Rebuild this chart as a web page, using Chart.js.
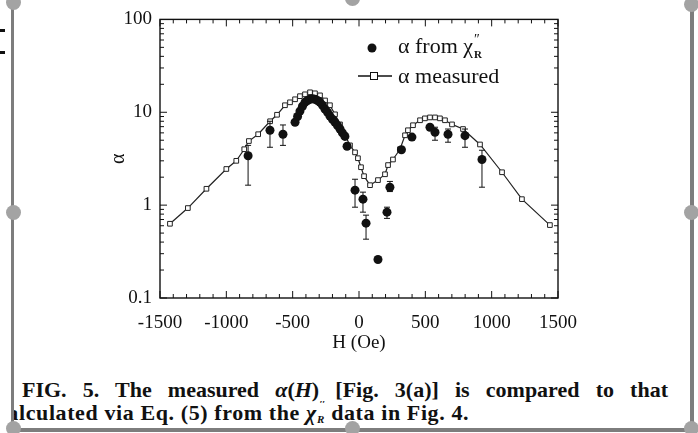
<!DOCTYPE html>
<html>
<head>
<meta charset="utf-8">
<script src="https://cdn.jsdelivr.net/npm/chart.js@4.4.0/dist/chart.umd.min.js"></script>
<style>
  body { margin: 0; background: #fff; width: 698px; height: 433px; overflow: hidden; position: relative; font-family: "Liberation Serif", "Times New Roman", serif; color: #111; }
  #wrap { position: absolute; left: 0; top: 0; width: 698px; height: 360px; }
  .cap { position: absolute; font-size: 22px; line-height: 23px; font-weight: bold; letter-spacing: 0.6px; white-space: nowrap; }
  #cap1 { left: 22px; top: 378px; width: 646px; white-space: normal; text-align: justify; text-align-last: justify; letter-spacing: 0; }
  #clip2 { position: absolute; left: 14px; top: 401px; width: 600px; height: 24px; overflow: hidden; }
  #cap2 { left: -17px; top: 0; }
  .chi { display: inline-block; position: relative; width: 19px; }
  .chi .pr { position: absolute; left: 13px; top: -9px; font-size: 13px; font-style: italic; }
  .chi .r { position: absolute; left: 11px; top: 7px; font-size: 11px; font-style: italic; }
  .bar { position: absolute; background: #7d7d7d; }
  .dot { position: absolute; width: 15px; height: 15px; border-radius: 50%; background: #a3a3a3; }
  .mark { position: absolute; background: #111; }
</style>
</head>
<body>
<div id="wrap"><canvas id="chart" width="698" height="360"></canvas></div>

<div class="cap" id="cap1">FIG. 5. The measured <i>α</i>(<i>H</i>) [Fig. 3(a)] is compared to that</div>
<div id="clip2"><div class="cap" id="cap2">calculated via Eq. (5) from the <span class="chi"><i>χ</i><span class="pr">″</span><span class="r">R</span></span> data in Fig. 4.</div></div>

<div class="bar" style="left:11px; top:8px; width:3px; height:425px;"></div>
<div class="bar" style="left:690px; top:8px; width:4px; height:425px;"></div>
<div class="bar" style="left:11px; top:428px; width:683px; height:4px;"></div>
<div class="dot" style="left:6px; top:-5px;"></div>
<div class="dot" style="left:345px; top:-9px;"></div>
<div class="dot" style="left:684px; top:-3px;"></div>
<div class="dot" style="left:6px; top:205px;"></div>
<div class="dot" style="left:684px; top:205px;"></div>
<div class="dot" style="left:6px; top:421px;"></div>
<div class="dot" style="left:345px; top:421px;"></div>
<div class="dot" style="left:684px; top:421px;"></div>
<div class="mark" style="left:0; top:29px; width:5px; height:3px;"></div>
<div class="mark" style="left:0; top:51px; width:5px; height:3px;"></div>

<script>
// alpha measured (open squares, line)
const hMeasured = [-1425, -1290, -1150, -1000, -925, -865, -830, -760, -670, -618,
  -558, -520, -482, -445, -407, -369, -332, -294, -256, -219,
  -181, -143, -106, -68, -30, -8, 15, 38, 83, 143,
  196, 219, 256, 309, 347, 369, 407, 460, 497, 535,
  573, 610, 648, 701, 784, 912, 1078, 1228, 1439];
const alphaMeasured = [0.63, 0.93, 1.5, 2.45, 3.0, 4.0, 4.9, 5.8, 8.0, 9.4,
  11.9, 12.8, 13.8, 14.9, 15.6, 16.4, 16.0, 15.2, 13.4, 11.9,
  9.5, 7.4, 5.7, 4.4, 3.7, 3.2, 2.56, 2.05, 1.64, 1.86,
  2.15, 2.7, 3.1, 4.0, 5.65, 6.4, 7.25, 8.2, 8.6, 8.8,
  8.8, 8.6, 8.2, 7.4, 6.6, 4.5, 2.26, 1.16, 0.61];

// alpha from chi''_R (filled dots, some with error bars)
const hFromChi = [-836, -671, -573, -482, -463, -445, -426, -407, -388, -369,
  -350, -332, -313, -294, -275, -256, -237, -219, -200, -181,
  -162, -143, -125, -106, -90, -30, 30, 53, 143, 211,
  233, 320, 399, 535, 573, 671, 799, 927];
const alphaFromChi = [3.4, 6.4, 5.8, 7.8, 9.0, 10.3, 11.6, 12.8, 13.4, 13.8,
  14.0, 13.8, 13.4, 12.8, 11.9, 10.8, 10.0, 9.1, 8.4, 7.8,
  7.2, 6.6, 6.0, 5.5, 4.3, 1.45, 1.16, 0.64, 0.26, 0.84,
  1.56, 3.95, 5.4, 6.9, 6.1, 5.8, 5.6, 3.1];
const errLow = [1.64, 4.2, 4.4, null, null, null, null, null, null, null,
  null, null, null, null, null, null, null, null, null, null,
  null, null, null, null, null, 0.95, 0.84, 0.43, null, 0.72,
  1.4, null, null, null, 5.0, 4.76, 4.2, 1.56];
const errHigh = [4.4, 8.0, 7.3, null, null, null, null, null, null, null,
  null, null, null, null, null, null, null, null, null, null,
  null, null, null, null, null, 1.9, 1.38, 0.78, null, 0.95,
  1.8, null, null, null, 6.9, 6.6, 6.6, 3.9];

const xTickVals = [-1500, -1000, -500, 0, 500, 1000, 1500];
const yTickVals = [0.1, 1, 10, 100];
const yDecades = [0.1, 1, 10];

const serif = "'Liberation Serif', 'Times New Roman', serif";

const errorBars = {
  id: 'errorBars',
  afterDatasetsDraw(chart) {
    const { ctx, scales: { x, y } } = chart;
    ctx.save();
    ctx.strokeStyle = '#111';
    ctx.lineWidth = 1;
    hFromChi.forEach((h, i) => {
      if (errLow[i] == null) return;
      const px = x.getPixelForValue(h);
      const y1 = y.getPixelForValue(errLow[i]);
      const y2 = y.getPixelForValue(errHigh[i]);
      ctx.beginPath();
      ctx.moveTo(px, y1); ctx.lineTo(px, y2);
      ctx.moveTo(px - 3, y1); ctx.lineTo(px + 3, y1);
      ctx.moveTo(px - 3, y2); ctx.lineTo(px + 3, y2);
      ctx.stroke();
    });
    ctx.restore();
  }
};

const frame = {
  id: 'frame',
  afterDraw(chart) {
    const { ctx, chartArea: a, scales: { x, y } } = chart;
    ctx.save();
    ctx.strokeStyle = '#111';
    ctx.lineWidth = 1.4;
    ctx.strokeRect(a.left, a.top, a.right - a.left, a.bottom - a.top);
    ctx.lineWidth = 1;
    ctx.beginPath();
    for (let v = -1500; v <= 1500; v += 100) {
      const px = x.getPixelForValue(v);
      const len = v % 500 === 0 ? 7 : 4;
      ctx.moveTo(px, a.bottom); ctx.lineTo(px, a.bottom - len);
      ctx.moveTo(px, a.top); ctx.lineTo(px, a.top + len);
    }
    yDecades.forEach(d => {
      for (let k = 1; k < 10; k++) {
        const py = y.getPixelForValue(d * k);
        const len = k === 1 ? 7 : 4;
        ctx.moveTo(a.left, py); ctx.lineTo(a.left + len, py);
        ctx.moveTo(a.right, py); ctx.lineTo(a.right - len, py);
      }
    });
    ctx.stroke();

    // legend
    ctx.fillStyle = '#111';
    ctx.beginPath();
    ctx.arc(372, 48, 4.5, 0, Math.PI * 2);
    ctx.fill();
    ctx.font = '22px ' + serif;
    ctx.textBaseline = 'alphabetic';
    ctx.fillText('α from χ', 398, 53);
    const w = ctx.measureText('α from χ').width;
    ctx.font = '14px ' + serif;
    ctx.fillText('″', 398 + w + 1, 44);
    ctx.font = 'bold 11px ' + serif;
    ctx.fillText('R', 398 + w + 1, 58);

    ctx.lineWidth = 1.3;
    ctx.beginPath();
    ctx.moveTo(358, 76); ctx.lineTo(392, 76);
    ctx.stroke();
    ctx.fillStyle = '#fff';
    ctx.fillRect(370.5, 72.5, 7, 7);
    ctx.lineWidth = 1;
    ctx.strokeRect(370.5, 72.5, 7, 7);
    ctx.fillStyle = '#111';
    ctx.font = '22px ' + serif;
    ctx.fillText('α measured', 398, 83);
    ctx.restore();
  }
};

new Chart(document.getElementById('chart'), {
  type: 'scatter',
  data: {
    datasets: [
      {
        label: 'α from χ″R',
        data: hFromChi.map((h, i) => ({ x: h, y: alphaFromChi[i] })),
        pointRadius: 4.5,
        pointBackgroundColor: '#111',
        pointBorderColor: '#111',
        pointBorderWidth: 0,
        showLine: false
      },
      {
        label: 'α measured',
        data: hMeasured.map((h, i) => ({ x: h, y: alphaMeasured[i] })),
        showLine: true,
        borderColor: '#222',
        borderWidth: 1.2,
        pointStyle: 'rect',
        pointRadius: 3.3,
        pointBackgroundColor: '#fff',
        pointBorderColor: '#222',
        pointBorderWidth: 1
      }
    ]
  },
  options: {
    responsive: false,
    animation: false,
    layout: { padding: { left: 105, right: 140, top: 18, bottom: 0 } },
    plugins: { legend: { display: false }, tooltip: { enabled: false } },
    scales: {
      x: {
        type: 'linear',
        min: -1500,
        max: 1500,
        afterBuildTicks: s => { s.ticks = xTickVals.map(v => ({ value: v })); },
        afterFit: s => { s.height = 62; },
        grid: { display: false, drawTicks: false },
        border: { display: false },
        ticks: { color: '#111', padding: 14, font: { family: serif, size: 19 }, callback: v => String(v) },
        title: { display: true, text: 'H (Oe)', color: '#111', padding: { bottom: 6 }, font: { family: serif, size: 19 } }
      },
      y: {
        type: 'logarithmic',
        min: 0.1,
        max: 100,
        afterBuildTicks: s => { s.ticks = yTickVals.map(v => ({ value: v })); },
        afterFit: s => { s.width = 55; },
        grid: { display: false, drawTicks: false },
        border: { display: false },
        ticks: { color: '#111', padding: 8, font: { family: serif, size: 19 }, callback: v => String(v) },
        title: { display: true, text: 'α', color: '#111', padding: { top: 2 }, font: { family: serif, size: 20 } }
      }
    }
  },
  plugins: [errorBars, frame]
});
</script>
</body>
</html>
